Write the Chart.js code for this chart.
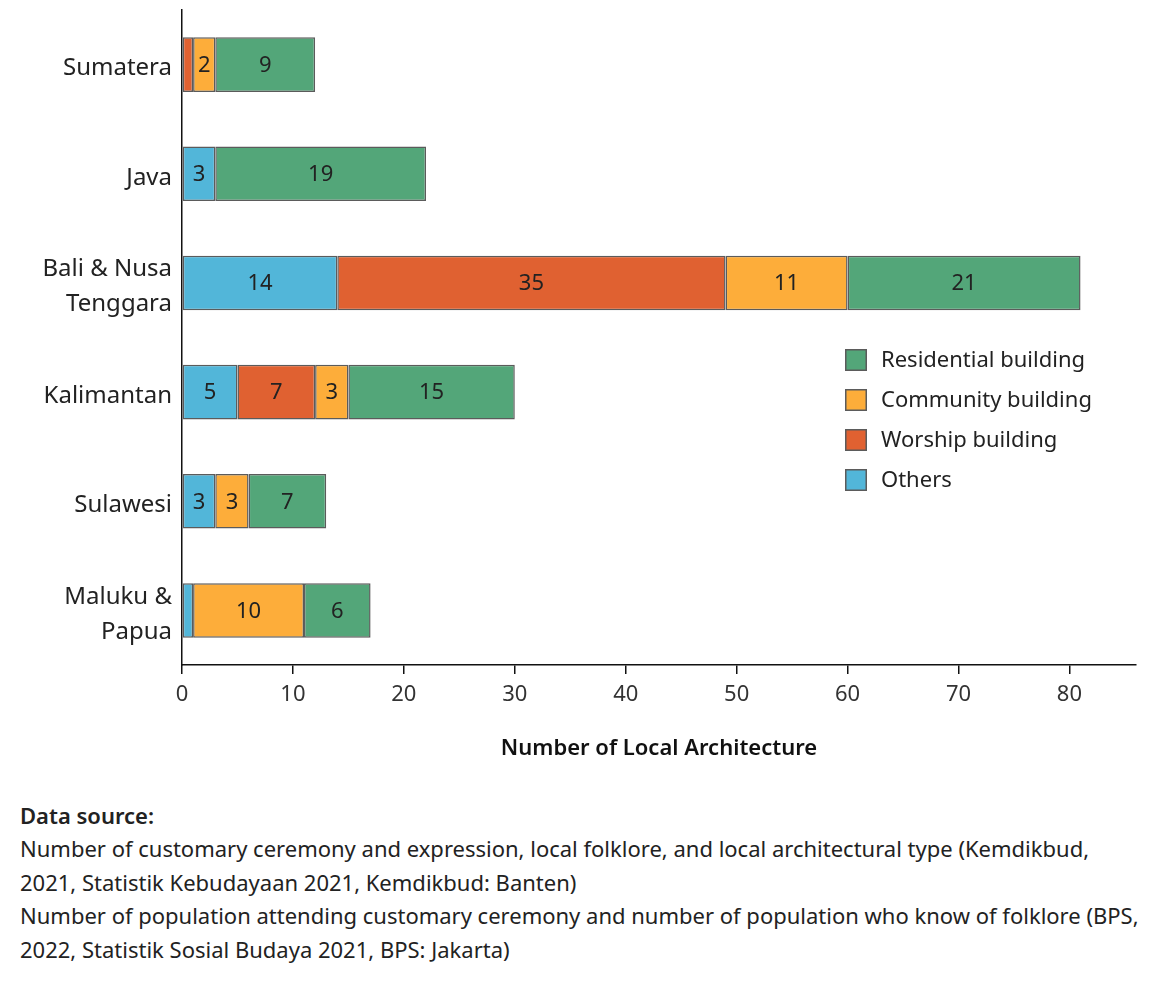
<!DOCTYPE html>
<html>
<head>
<meta charset="utf-8">
<title>Local Architecture by Region</title>
<script src="https://cdn.jsdelivr.net/npm/chart.js@4.4.1/dist/chart.umd.min.js"></script>
<style>
  body { margin: 0; background: #fff; font-family: "Noto Sans", sans-serif; }
  #wrap { position: relative; width: 1150px; height: 780px; }
  #note { position: absolute; left: 20px; top: 799px; font-size: 22px; line-height: 33.4px; color: #222; white-space: nowrap; }
  #note b { font-weight: 600; }
</style>
</head>
<body>
<div id="wrap"><canvas id="c" width="1150" height="780"></canvas></div>
<div id="note">
  <b>Data source:</b><br>
  Number of customary ceremony and expression, local folklore, and local architectural type (Kemdikbud,<br>
  2021, Statistik Kebudayaan 2021, Kemdikbud: Banten)<br>
  Number of population attending customary ceremony and number of population who know of folklore (BPS,<br>
  2022, Statistik Sosial Budaya 2021, BPS: Jakarta)
</div>
<script>
// Regions (top to bottom)
const regions = ['Sumatera', 'Java', ['Bali & Nusa', 'Tenggara'], 'Kalimantan', 'Sulawesi', ['Maluku &', 'Papua']];

// Number of local architecture types per region, by category
const others      = [null, 3, 14, 5, 3, 1];
const worship     = [1, null, 35, 7, null, null];
const community   = [2, null, 11, 3, 3, 10];
const residential = [9, 19, 21, 15, 7, 6];

// Axis ticks
const xTicks = [0, 10, 20, 30, 40, 50, 60, 70, 80];
const xMax = 86;

const FONT = '"Noto Sans", sans-serif';
const EDGE = '#5b5b5b';

// Values written inside each segment
const segmentLabels = {
  id: 'segmentLabels',
  afterDatasetsDraw(chart) {
    const ctx = chart.ctx;
    ctx.save();
    ctx.font = '22px ' + FONT;
    ctx.fillStyle = '#222';
    ctx.textAlign = 'center';
    ctx.textBaseline = 'middle';
    chart.data.datasets.forEach((ds, i) => {
      const meta = chart.getDatasetMeta(i);
      meta.data.forEach((bar, j) => {
        const v = ds.data[j];
        if (v == null || v < 2) return;
        ctx.fillText(String(v), (bar.x + bar.base) / 2, bar.y + 1);
      });
    });
    ctx.restore();
  }
};

// Legend inside the plot, listed from the rightmost segment to the leftmost
const innerLegend = {
  id: 'innerLegend',
  afterDraw(chart) {
    const ctx = chart.ctx;
    const left = chart.chartArea.left + 663;
    let top = 349;
    ctx.save();
    ctx.font = '22px ' + FONT;
    ctx.textBaseline = 'middle';
    ctx.textAlign = 'left';
    const items = chart.data.datasets.slice().reverse();
    items.forEach(ds => {
      ctx.fillStyle = ds.backgroundColor;
      ctx.fillRect(left, top, 22, 22);
      ctx.strokeStyle = EDGE;
      ctx.lineWidth = 1.5;
      ctx.strokeRect(left + 0.75, top + 0.75, 20.5, 20.5);
      ctx.fillStyle = '#222';
      ctx.fillText(ds.label, left + 36, top + 12);
      top += 40;
    });
    ctx.restore();
  }
};

const mk = (label, data, color) => ({
  label, data,
  backgroundColor: color,
  borderColor: EDGE,
  borderWidth: 1.5,
  borderSkipped: false,
  categoryPercentage: 1,
  barPercentage: 0.5
});

new Chart(document.getElementById('c'), {
  type: 'bar',
  data: {
    labels: regions,
    datasets: [
      mk('Others', others, '#52b6d9'),
      mk('Worship building', worship, '#e06131'),
      mk('Community building', community, '#fdad3a'),
      mk('Residential building', residential, '#53a679')
    ]
  },
  options: {
    indexAxis: 'y',
    responsive: false,
    animation: false,
    layout: { padding: { top: 10, right: 14, left: 0, bottom: 0 } },
    plugins: { legend: { display: false }, tooltip: { enabled: false } },
    scales: {
      x: {
        stacked: true,
        min: 0,
        max: xMax,
        afterBuildTicks(scale) { scale.ticks = xTicks.map(v => ({ value: v })); },
        afterFit(scale) { scale.height = 115; scale.paddingLeft = 0; scale.paddingRight = 0; },
        border: { display: true, color: '#111', width: 1.5 },
        grid: { drawOnChartArea: false, drawTicks: true, tickLength: 9, color: '#111', lineWidth: 1.5 },
        ticks: { font: { family: FONT, size: 22 }, color: '#333', padding: 8, maxRotation: 0 },
        title: {
          display: true,
          text: 'Number of Local Architecture',
          font: { family: FONT, size: 22, weight: '600' },
          color: '#111',
          padding: { top: 0, bottom: 18 }
        }
      },
      y: {
        stacked: true,
        afterFit(scale) { scale.width = 182; scale.paddingTop = 0; scale.paddingBottom = 0; },
        border: { display: true, color: '#111', width: 1.5 },
        grid: { display: false, drawTicks: false },
        ticks: { font: { family: FONT, size: 24, lineHeight: 1.45 }, color: '#222', padding: 10, labelOffset: 4 }
      }
    }
  },
  plugins: [segmentLabels, innerLegend]
});
</script>
</body>
</html>
